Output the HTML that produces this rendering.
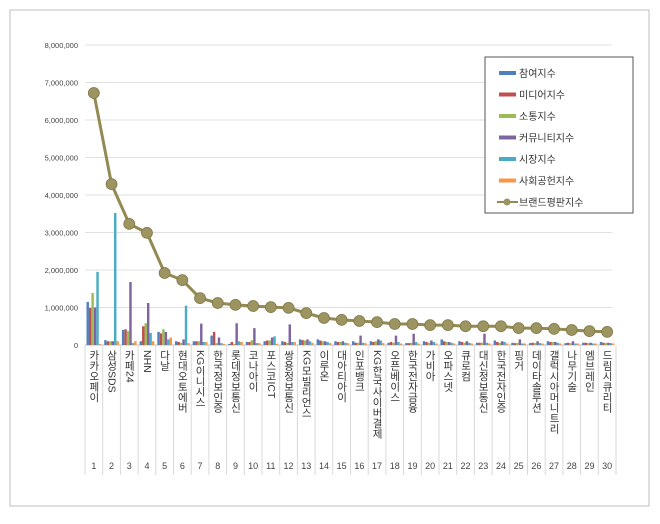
<!DOCTYPE html>
<html><head><meta charset="utf-8"><style>
body{margin:0;background:#fff;font-family:"Liberation Sans","Noto Sans CJK KR",sans-serif}
#wrap{position:relative;width:660px;height:519px}
</style></head><body>
<div id="wrap">
<svg id="chart" width="660" height="519"></svg>
</div>
<script>
const categories=["카카오페이","삼성SDS","카페24","NHN","다날","현대오토에버","KG이니시스","한국정보인증","롯데정보통신","코나아이","포스코ICT","쌍용정보통신","KG모빌리언스","이루온","대아티아이","인포뱅크","KG한국사이버결제","오픈베이스","한국전자금융","가비아","오파스넷","큐로컴","대신정보통신","한국전자인증","핑거","데이타솔루션","갤럭시아머니트리","나무기술","엠브레인","드림시큐리티"];
const brandValues=[6720000,4290000,3230000,2990000,1920000,1730000,1250000,1120000,1070000,1040000,1010000,990000,850000,720000,670000,640000,610000,560000,560000,530000,530000,500000,500000,500000,450000,450000,430000,400000,370000,350000];
const participation=[1150000,130000,400000,100000,350000,100000,100000,250000,30000,80000,100000,100000,150000,150000,100000,100000,100000,60000,50000,100000,150000,100000,60000,120000,60000,50000,100000,50000,60000,80000];
const media=[990000,100000,420000,500000,310000,80000,100000,350000,80000,80000,120000,80000,130000,120000,80000,60000,80000,80000,50000,80000,100000,80000,60000,80000,50000,60000,80000,60000,60000,60000];
const communication=[1390000,100000,370000,580000,420000,60000,100000,50000,30000,130000,120000,60000,120000,100000,80000,60000,100000,60000,60000,60000,80000,60000,60000,60000,60000,50000,80000,50000,50000,50000];
const community=[1000000,100000,1680000,1120000,350000,150000,570000,200000,580000,450000,200000,550000,150000,100000,100000,250000,150000,250000,300000,120000,80000,100000,300000,100000,150000,100000,80000,100000,60000,60000];
const market=[1950000,3520000,50000,320000,150000,1050000,80000,50000,100000,50000,230000,80000,100000,80000,60000,60000,120000,80000,80000,80000,60000,60000,60000,80000,40000,50000,60000,40000,40000,50000];
const social=[30000,100000,100000,100000,200000,50000,80000,30000,80000,50000,30000,80000,60000,50000,50000,50000,50000,40000,40000,40000,40000,40000,40000,40000,40000,40000,40000,40000,40000,40000];
const yTicks=[0,1000000,2000000,3000000,4000000,5000000,6000000,7000000,8000000];
const seriesNames=["참여지수","미디어지수","소통지수","커뮤니티지수","시장지수","사회공헌지수","브랜드평판지수"];
const seriesColors=["#4f81bd","#c0504d","#9bbb59","#8064a2","#4bacc6","#f79646"];
const seriesData=[participation,media,communication,community,market,social];
const seriesKeys=["participation","media","communication","community","market","social"];

const NS="http://www.w3.org/2000/svg";
const svg=document.getElementById('chart');
function mk(t,a,p){const e=document.createElementNS(NS,t);for(const k in a)e.setAttribute(k,a[k]);(p||svg).appendChild(e);return e;}
const X0=85,X1=616,Y0=345,Y1=45,YMAX=8000000;
const slot=(X1-X0)/categories.length;
const yS=v=>Y0-(v/YMAX)*(Y0-Y1);
const xC=i=>X0+slot*(i+0.5);

let f=mk('rect',{x:10,y:10,width:639,height:496,fill:'#fff',stroke:'#bfbfbf'});


yTicks.forEach(t=>{
  const y=yS(t);
  let l=mk('line',{x1:X0,x2:X1-4,y1:y,y2:y,stroke:t===0?'#bfbfbf':'#e0e0e0'});
  
  let tx=mk('text',{x:78,y:y+3,'text-anchor':'end','font-size':'7.5',fill:'#444'});
  tx.textContent=t.toLocaleString('en-US');
  
});

for(let i=0;i<=categories.length;i++){
  const x=X0+slot*i;
  let l=mk('line',{x1:x,x2:x,y1:Y0,y2:475,stroke:'#d9d9d9'});
  
}

const bw=(slot-3)/6;
seriesData.forEach((arr,s)=>{
  const g=mk('g',{});
  
  arr.forEach((v,i)=>{
    const x=X0+slot*i+1.5+bw*s;
    let r=mk('rect',{x:x,y:yS(v),width:bw,height:Y0-yS(v),fill:seriesColors[s]},g);
    
  });
});

let pts=brandValues.map((v,i)=>xC(i)+','+yS(v)).join(' ');
let pl=mk('polyline',{points:pts,fill:'none',stroke:'#938953','stroke-width':'3'});

brandValues.forEach((v,i)=>{
  let c=mk('circle',{cx:xC(i),cy:yS(v),r:5.5,fill:'#9c9461',stroke:'#7f7845','stroke-width':'0.8'});
  
});

categories.forEach((c,i)=>{
  let t=mk('text',{x:xC(i),y:350,'font-size':'10.5',fill:'#333',style:'writing-mode:vertical-rl'});
  t.textContent=c;
  
  let n=mk('text',{x:xC(i),y:469,'text-anchor':'middle','font-size':'9',fill:'#444'});
  n.textContent=String(i+1);
  
});

const lg=mk('g',{});

mk('rect',{x:485,y:57,width:148,height:156,fill:'#fff',stroke:'#555'},lg);
seriesNames.forEach((nm,i)=>{
  const y=73+i*21.5;
  const e=mk('g',{},lg);
  
  if(i<6){mk('rect',{x:499,y:y-2,width:17,height:4,fill:seriesColors[i]},e);}
  else{mk('line',{x1:497,x2:518,y1:y,y2:y,stroke:'#938953','stroke-width':'2'},e);mk('circle',{cx:507,cy:y,r:3.5,fill:'#9c9461'},e);}
  const t=mk('text',{x:519,y:y+4,'font-size':'10',fill:'#333'},e);t.textContent=nm;
});
</script>
</body></html>
